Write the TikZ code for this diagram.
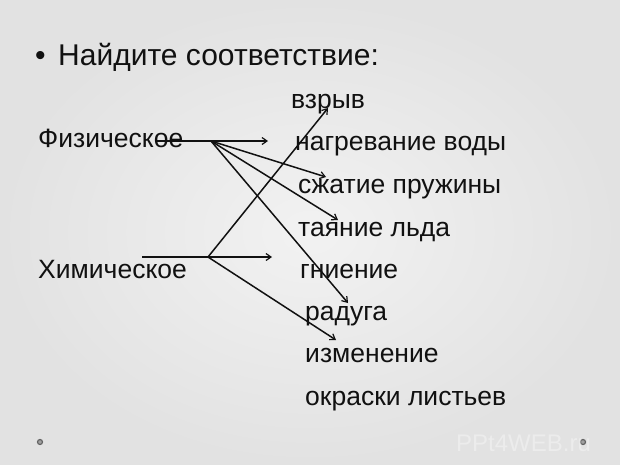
\documentclass[tikz,border=0pt]{standalone}
\usepackage{fontspec}
\setmainfont{Liberation Sans}
\usetikzlibrary{arrows.meta}
\definecolor{bgedge}{RGB}{226,226,226}
\definecolor{bgmid}{RGB}{242,242,242}
\definecolor{ink}{RGB}{17,17,17}
\definecolor{dotc}{RGB}{100,100,100}
\definecolor{dotf}{RGB}{160,160,160}
\tikzset{
  lbl/.style={anchor=base west, inner sep=0pt, font=\fontsize{26.5}{30}\selectfont, text=ink},
  ttl/.style={anchor=base west, inner sep=0pt, font=\fontsize{30}{34}\selectfont, text=ink},
  conn/.style={draw=ink, line width=1.5pt},
  arr/.style={conn, -{Straight Barb[length=5pt,width=7pt,line width=1.2pt]}},
  slidedot/.style={circle, draw=dotc, fill=dotf, line width=1.2pt, minimum size=5pt, inner sep=0pt},
}
\begin{document}
\begin{tikzpicture}[x=1pt,y=-1pt]
\useasboundingbox (0,0) rectangle (620,464);
\shade[inner color=bgmid, outer color=bgedge] (0,0) rectangle (620,464);

% title
\node[ttl] (bul) at (35,65) {•};
\node[ttl] (title) at (58,65) {Найдите соответствие:};

% left labels
\node[lbl] (phys) at (38,147) {Физическое};
\node[lbl] (chem) at (38,278) {Химическое};

% right labels
\node[lbl] (vzr) at (291,108) {взрыв};
\node[lbl] (nagr) at (295,150) {нагревание воды};
\node[lbl] (szh) at (298,193) {сжатие пружины};
\node[lbl] (tay) at (298,236) {таяние льда};
\node[lbl] (gni) at (300,278) {гниение};
\node[lbl] (rad) at (305,320) {радуга};
\node[lbl] (izm) at (305,362) {изменение};
\node[lbl] (okr) at (305,405) {окраски листьев};

% connector points
\coordinate (ps) at (157,141);
\coordinate (ph) at (211,141);
\coordinate (pt0) at (268,141);
\coordinate (pt1) at (326,177);
\coordinate (pt2) at (338,220);
\coordinate (pt3) at (348,303);
\coordinate (cs) at (142,257);
\coordinate (chh) at (208,257);
\coordinate (ct0) at (272,257);
\coordinate (ct1) at (328,108);
\coordinate (ct2) at (336,340);

\draw[arr] (ps) -- (pt0);
\draw[arr] (ph) -- (pt1);
\draw[arr] (ph) -- (pt2);
\draw[arr] (ph) -- (pt3);
\draw[arr] (cs) -- (ct0);
\draw[arr] (chh) -- (ct1);
\draw[arr] (chh) -- (ct2);

% slide dots and watermark
\node[slidedot] (d1) at (40,442) {};
\node[slidedot] (d2) at (583,442) {};
\node[anchor=base west, inner sep=0pt, font=\fontsize{24}{26}\selectfont, text=white, opacity=0.35] (wm) at (456,451) {PPt4WEB.ru};
\end{tikzpicture}
\end{document}
